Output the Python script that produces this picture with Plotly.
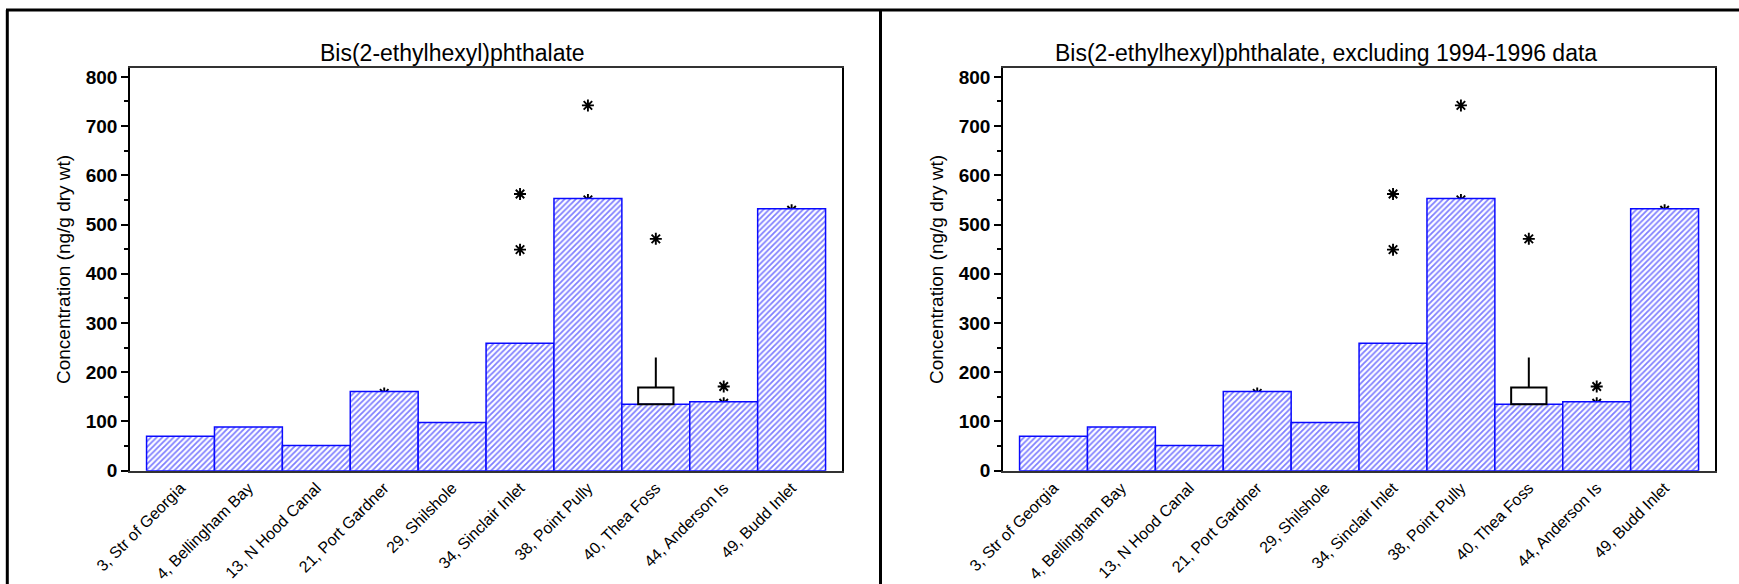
import plotly.graph_objects as go

# --- data -------------------------------------------------------------
sites = ["3, Str of Georgia", "4, Bellingham Bay", "13, N Hood Canal",
         "21, Port Gardner", "29, Shilshole", "34, Sinclair Inlet",
         "38, Point Pully", "40, Thea Foss", "44, Anderson Is", "49, Budd Inlet"]

# median concentration per site (ng/g dry wt)
conc_all = [70, 89, 51, 161, 98, 259, 553, 135, 140, 532]
conc_excl = [70, 89, 51, 161, 98, 259, 553, 135, 140, 532]

# outlying individual samples
outlier_sites = ["21, Port Gardner", "34, Sinclair Inlet", "34, Sinclair Inlet",
                 "38, Point Pully", "38, Point Pully", "40, Thea Foss",
                 "44, Anderson Is", "44, Anderson Is", "49, Budd Inlet"]
outlier_all = [157, 562, 449, 742, 550, 471, 171, 137, 529]
outlier_excl = [157, 562, 449, 742, 550, 471, 171, 137, 529]

# upper quartile box and whisker shown for Thea Foss
box_site = "40, Thea Foss"
box_low = 135
box_high = 169
whisker_high = 230

y_ticks = [0, 100, 200, 300, 400, 500, 600, 700, 800]

titles = ["Bis(2-ethylhexyl)phthalate",
          "Bis(2-ethylhexyl)phthalate, excluding 1994-1996 data"]
y_title = "Concentration (ng/g dry wt)"

# --- layout geometry ----------------------------------------------------
W, H = 1739, 584
FONT = "Liberation Sans, Arial, sans-serif"
BLUE = "#0a0aff"
HATCH = "#0000ff"

def px(x):
    return x / W

def py(y):
    return 1 - y / H

y_dom = [py(470.7), py(68)]
x_doms = [[px(130), px(842)], [px(1003), px(1715)]]
x_range = [-0.744, 9.742]
y_range = [0, 818]

idx = {s: i for i, s in enumerate(sites)}
xs = list(range(len(sites)))

fig = go.Figure()
panels = [(conc_all, outlier_all), (conc_excl, outlier_excl)]

layout = dict(
    template="none",
    width=W, height=H,
    margin=dict(l=0, r=0, t=0, b=0, autoexpand=False),
    paper_bgcolor="white", plot_bgcolor="rgba(0,0,0,0)",
    showlegend=False, barmode="overlay",
    font=dict(family=FONT, color="black"),
)

annotations = []
for p, (conc, outl) in enumerate(panels):
    base = 2 * p + 1          # axis holding the outlier stars
    over = 2 * p + 2          # overlaying axis holding bars (drawn on top)
    bx, by = ("x" if base == 1 else f"x{base}"), ("y" if base == 1 else f"y{base}")
    ox, oy = f"x{over}", f"y{over}"

    # outlier stars (partly covered by the bars drawn above)
    fig.add_trace(go.Scatter(
        x=[idx[s] for s in outlier_sites], y=outl,
        mode="markers", xaxis=bx, yaxis=by,
        marker=dict(symbol="asterisk-open", size=10, color="black",
                    line=dict(color="black", width=1.9)),
        hoverinfo="skip"))

    # hatched bars
    fig.add_trace(go.Bar(
        x=xs, y=conc, width=1.0, xaxis=ox, yaxis=oy,
        marker=dict(color="white",
                    line=dict(color=BLUE, width=1.5),
                    pattern=dict(shape="/", fgcolor=HATCH, bgcolor="white",
                                 size=4, solidity=0.45, fillmode="overlay")),
        hoverinfo="skip"))

    # box from box_low to box_high
    fig.add_trace(go.Bar(
        x=[idx[box_site]], y=[box_high - box_low], base=[box_low], width=0.52,
        xaxis=ox, yaxis=oy,
        marker=dict(color="rgba(255,255,255,0)", line=dict(color="black", width=2)),
        hoverinfo="skip"))

    # whisker
    fig.add_trace(go.Scatter(
        x=[idx[box_site], idx[box_site]], y=[box_high, whisker_high],
        mode="lines", xaxis=ox, yaxis=oy,
        line=dict(color="black", width=2), hoverinfo="skip"))

    xname = "xaxis" if base == 1 else f"xaxis{base}"
    yname = "yaxis" if base == 1 else f"yaxis{base}"
    layout[xname] = dict(
        domain=x_doms[p], range=x_range, anchor=by, automargin=False,
        tickmode="array", tickvals=xs, ticktext=sites, tickangle=-45,
        ticks="", showgrid=False, zeroline=False,
        showline=True, linecolor="#333", linewidth=1.5, mirror=True,
        tickfont=dict(family=FONT, size=16, color="black"),
    )
    layout[yname] = dict(
        domain=y_dom, range=y_range, anchor=bx, automargin=False,
        tickmode="array", tickvals=y_ticks,
        ticks="outside", ticklen=7, tickwidth=1.5, tickcolor="black",
        minor=dict(ticks="outside", ticklen=4, tickwidth=1.5, dtick=50,
                   tickcolor="black"),
        showgrid=False, zeroline=False,
        showline=True, linecolor="black", linewidth=1.5, mirror=True,
        tickfont=dict(family=FONT, size=19, color="black", weight="bold"),
    )
    layout[f"xaxis{over}"] = dict(domain=x_doms[p], range=x_range, anchor=oy,
                                  overlaying=bx, visible=False, automargin=False)
    layout[f"yaxis{over}"] = dict(domain=y_dom, range=y_range, anchor=ox,
                                  overlaying=by, visible=False, automargin=False)

    x0 = [130, 1003][p]
    annotations.append(dict(
        text=titles[p], xref="paper", yref="paper",
        x=px([453, 1326][p]), y=py(53), xanchor="center", yanchor="middle",
        showarrow=False, font=dict(family=FONT, size=23, color="black")))
    annotations.append(dict(
        text=y_title, xref="paper", yref="paper", textangle=-90,
        x=px(x0 - 67), y=py(270), xanchor="center", yanchor="middle",
        showarrow=False, font=dict(family=FONT, size=19, color="black")))

layout["annotations"] = annotations

# panel frames
frame = dict(color="black", width=3)
layout["shapes"] = [
    dict(type="line", xref="paper", yref="paper", x0=px(6), x1=1, y0=py(10), y1=py(10), line=frame),
    dict(type="line", xref="paper", yref="paper", x0=px(7.3), x1=px(7.3), y0=py(10), y1=0, line=frame),
    dict(type="line", xref="paper", yref="paper", x0=px(880.5), x1=px(880.5), y0=py(10), y1=0, line=frame),
]

fig.update_layout(**layout)
fig.write_html("out.html")
